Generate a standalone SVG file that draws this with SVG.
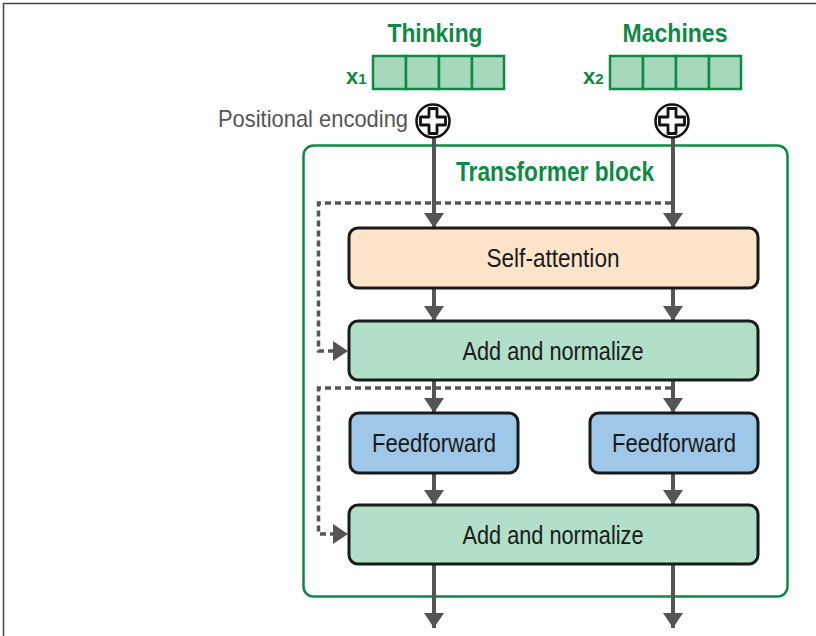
<svg xmlns="http://www.w3.org/2000/svg" width="816" height="636" viewBox="0 0 816 636">
<style>
.lbl{font-family:"Liberation Sans",Arial,sans-serif;font-size:26px;fill:#1a1a1a;text-anchor:middle}
.grn{font-family:"Liberation Sans",Arial,sans-serif;font-weight:bold;fill:#0e8a46;text-anchor:middle}
.sub{font-family:"Liberation Sans",Arial,sans-serif;font-weight:bold;fill:#0e8a46;font-size:22px}
.box{stroke:#1a1a1a;stroke-width:3}
.cell{fill:#a6d9bb;stroke:#0e8a46;stroke-width:2.5}
.arr{stroke:#555;stroke-width:4;fill:none}
.dash{stroke:#555;stroke-width:3.5;fill:none;stroke-dasharray:6 4}
</style>
<defs>
<marker id="ah" markerUnits="userSpaceOnUse" markerWidth="16" markerHeight="20" refX="15" refY="10" orient="auto">
<path d="M0,0 L15,10 L0,20 Z" fill="#555"/>
</marker>
<g id="plus">
<circle r="16.5" fill="#fff" stroke="#111" stroke-width="2.5"/>
<path d="M-4,-12.5 H4 V-4 H12.5 V4 H4 V12.5 H-4 V4 H-12.5 V-4 H-4 Z" fill="#fff" stroke="#111" stroke-width="2.8" stroke-linejoin="round"/>
</g>
</defs>
<rect width="816" height="636" fill="#fff"/>
<path d="M3.5,636 V3.5 H816" fill="none" stroke="#444" stroke-width="1.5"/>

<g id="frame">
<rect x="303.5" y="145.5" width="484" height="451" rx="10" fill="none" stroke="#0e8a46" stroke-width="2.5"/>
<text class="grn" x="555" y="181" font-size="27" textLength="198" lengthAdjust="spacingAndGlyphs">Transformer block</text>
</g>

<g id="connectors">
<line class="arr" x1="434" y1="138" x2="434" y2="228" marker-end="url(#ah)"/>
<line class="arr" x1="673" y1="138" x2="673" y2="228" marker-end="url(#ah)"/>
<line class="arr" x1="434" y1="288" x2="434" y2="321" marker-end="url(#ah)"/>
<line class="arr" x1="673" y1="288" x2="673" y2="321" marker-end="url(#ah)"/>
<line class="arr" x1="434" y1="380" x2="434" y2="413" marker-end="url(#ah)"/>
<line class="arr" x1="673" y1="380" x2="673" y2="413" marker-end="url(#ah)"/>
<line class="arr" x1="434" y1="473" x2="434" y2="505" marker-end="url(#ah)"/>
<line class="arr" x1="673" y1="473" x2="673" y2="505" marker-end="url(#ah)"/>
<line class="arr" x1="434" y1="564" x2="434" y2="628" marker-end="url(#ah)"/>
<line class="arr" x1="673" y1="564" x2="673" y2="628" marker-end="url(#ah)"/>
<path class="dash" d="M671,203 H318.5 V351 H334"/>
<path d="M333,341 L348,351 L333,361 Z" fill="#555"/>
<path class="dash" d="M671,388 H318.5 V534 H334"/>
<path d="M333,524 L348,534 L333,544 Z" fill="#555"/>
</g>

<g id="input-thinking">
<text class="grn" x="435" y="42" font-size="26" textLength="95" lengthAdjust="spacingAndGlyphs">Thinking</text>
<text class="sub" x="346" y="84">x<tspan font-size="15" dy="0">1</tspan></text>
<rect class="cell" x="373" y="56" width="33" height="33"/>
<rect class="cell" x="406" y="56" width="33" height="33"/>
<rect class="cell" x="439" y="56" width="33" height="33"/>
<rect class="cell" x="472" y="56" width="32" height="33"/>
</g>
<g id="input-machines">
<text class="grn" x="675" y="42" font-size="26" textLength="105" lengthAdjust="spacingAndGlyphs">Machines</text>
<text class="sub" x="583" y="84">x<tspan font-size="15" dy="0">2</tspan></text>
<rect class="cell" x="610" y="56" width="33" height="33"/>
<rect class="cell" x="643" y="56" width="33" height="33"/>
<rect class="cell" x="676" y="56" width="33" height="33"/>
<rect class="cell" x="709" y="56" width="32" height="33"/>
</g>

<g id="pos-enc-1">
<text x="218" y="127" font-family="Liberation Sans,Arial,sans-serif" font-size="24" fill="#555" textLength="190" lengthAdjust="spacingAndGlyphs">Positional encoding</text>
<use href="#plus" x="433" y="121"/>
</g>
<g id="pos-enc-2">
<use href="#plus" x="672" y="121"/>
</g>

<g id="self-attention">
<rect class="box" x="349" y="228" width="409" height="60" rx="9" fill="#fde4cb"/>
<text class="lbl" x="553" y="267" textLength="133" lengthAdjust="spacingAndGlyphs">Self-attention</text>
</g>
<g id="add-norm-1">
<rect class="box" x="349" y="321" width="409" height="59" rx="9" fill="#b1dfc8"/>
<text class="lbl" x="553" y="360" textLength="181" lengthAdjust="spacingAndGlyphs">Add and normalize</text>
</g>
<g id="ff-1">
<rect class="box" x="350" y="413" width="168" height="60" rx="9" fill="#9fc7e7"/>
<text class="lbl" x="434" y="452" textLength="124" lengthAdjust="spacingAndGlyphs">Feedforward</text>
</g>
<g id="ff-2">
<rect class="box" x="590" y="413" width="168" height="60" rx="9" fill="#9fc7e7"/>
<text class="lbl" x="674" y="452" textLength="124" lengthAdjust="spacingAndGlyphs">Feedforward</text>
</g>
<g id="add-norm-2">
<rect class="box" x="349" y="505" width="409" height="59" rx="9" fill="#b1dfc8"/>
<text class="lbl" x="553" y="544" textLength="181" lengthAdjust="spacingAndGlyphs">Add and normalize</text>
</g>
</svg>
